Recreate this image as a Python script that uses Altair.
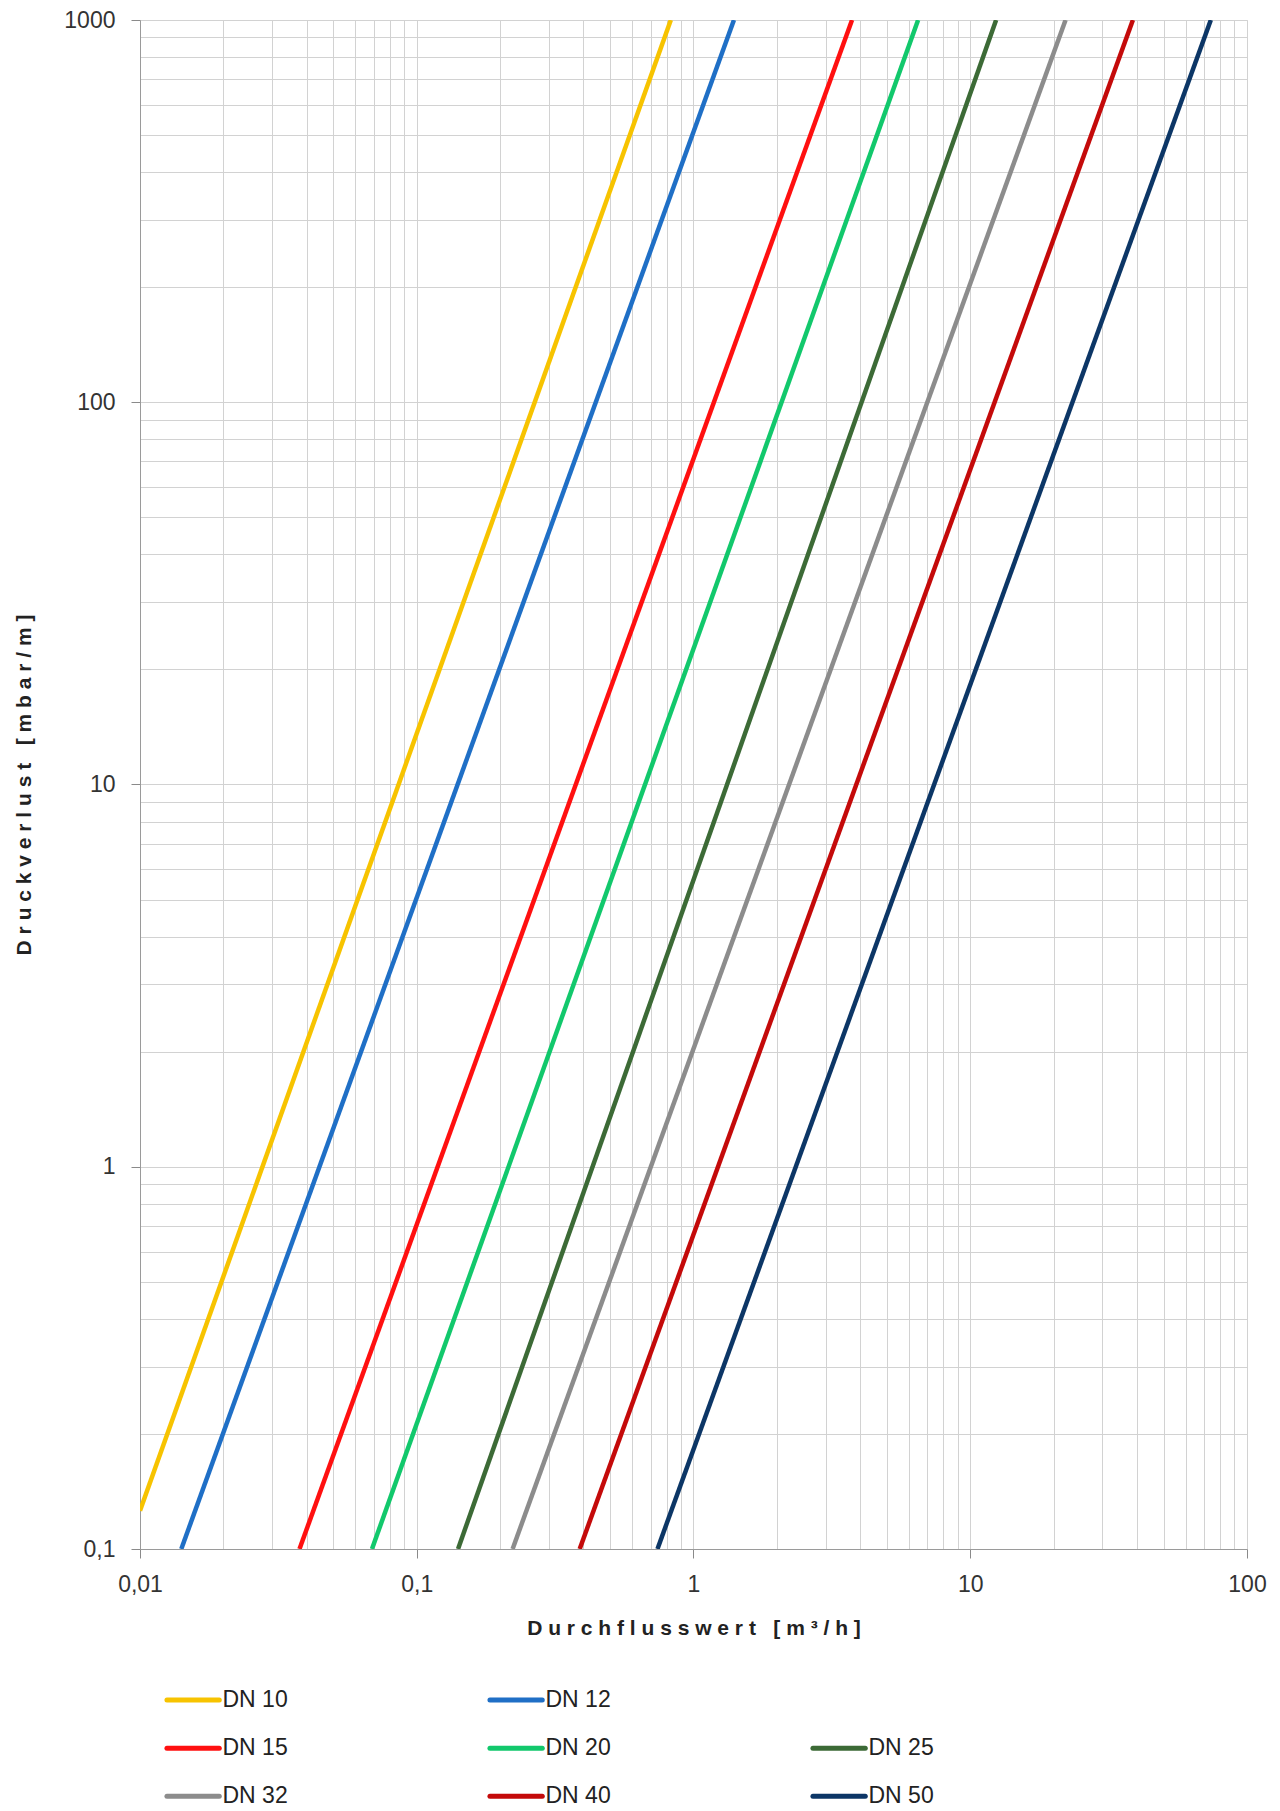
import altair as alt
import pandas as pd

# ---- data ----
series = ["DN 10", "DN 12", "DN 15", "DN 20", "DN 25", "DN 32", "DN 40", "DN 50"]
colors = ["#F7C300", "#1F6FC6", "#FF1010", "#12C86C", "#3C6A36", "#8C8C8C", "#C40A0A", "#0C3666"]
# start point (lower-left end of each line) and end point (upper-right end)
x_start = [0.01, 0.0141, 0.0377, 0.0689, 0.141, 0.222, 0.388, 0.741]
y_start = [0.126, 0.1, 0.1, 0.1, 0.1, 0.1, 0.1, 0.1]
x_end = [0.828, 1.40, 3.74, 6.48, 12.4, 22.1, 38.7, 74.0]
y_end = [1000, 1000, 1000, 1000, 1000, 1000, 1000, 1000]
# legend layout (column, row) as in the reference
legend_col = [0, 1, 0, 1, 2, 0, 1, 2]
legend_row = [0, 0, 1, 1, 1, 2, 2, 2]

x_decades = [0.01, 0.1, 1, 10]
y_decades = [0.1, 1, 10, 100]
x_grid = [round(k * d, 6) for d in x_decades for k in range(1, 10)] + [100]
y_grid = [round(k * d, 6) for d in y_decades for k in range(1, 10)] + [1000]

rows = []
for s, xs, ys, xe, ye in zip(series, x_start, y_start, x_end, y_end):
    rows.append({"series": s, "x": xs, "y": ys, "o": 0})
    rows.append({"series": s, "x": xe, "y": ye, "o": 1})
df = pd.DataFrame(rows)

leg = pd.DataFrame({"series": series, "col": legend_col, "row": legend_row})
leg["x1"] = leg["col"] + 0.006
leg["x2"] = leg["col"] + 0.168
leg["xt"] = leg["col"] + 0.178

NB = "\u00a0"
def spaced(words):
    return (NB * 3).join(NB.join(list(w)) for w in words)

x_title = spaced(["Durchflusswert", "[m³/h]"])
y_title = spaced(["Druckverlust", "[mbar/m]"])

major_test = "abs(log(datum.value)/LN10 - round(log(datum.value)/LN10)) < 1e-6"
label_expr = f"{major_test} ? replace(format(datum.value, '~g'), '.', ',') : ''"
tick_op = {"condition": {"test": major_test, "value": 1}, "value": 0}

FONT = "Liberation Sans"
color_scale = alt.Scale(domain=series, range=colors)

common_axis = dict(
    grid=True,
    gridColor="#d2d2d2",
    gridWidth=1,
    tickOpacity=tick_op,
    tickSize=9,
    tickColor="#8a8a8a",
    domainColor="#9a9a9a",
    labelExpr=label_expr,
    labelFont=FONT,
    labelFontSize=23,
    labelColor="#333333",
    labelOverlap=False,
    labelFlush=False,
    titleFont=FONT,
    titleFontSize=21,
    titleFontWeight="bold",
    titleColor="#222222",
)

main = alt.Chart(df).mark_line(strokeWidth=4.5, clip=True).encode(
    x=alt.X("x:Q",
            scale=alt.Scale(type="log", domain=[0.01, 100], nice=False),
            axis=alt.Axis(values=x_grid, title=x_title, labelPadding=15,
                          titlePadding=21, **common_axis)),
    y=alt.Y("y:Q",
            scale=alt.Scale(type="log", domain=[0.1, 1000], nice=False),
            axis=alt.Axis(values=y_grid, title=y_title, labelPadding=16,
                          titlePadding=29, **common_axis)),
    color=alt.Color("series:N", scale=color_scale, legend=None),
    detail="series:N",
    order="o:Q",
).properties(width=1107, height=1529)

lx = alt.Scale(domain=[-0.0774, 3.3498])
ly = alt.Scale(domain=[-0.5, 2.2], reverse=True)

leg_rule = alt.Chart(leg).mark_rule(strokeWidth=5, strokeCap="round").encode(
    x=alt.X("x1:Q", scale=lx, axis=None),
    x2="x2:Q",
    y=alt.Y("row:Q", scale=ly, axis=None),
    color=alt.Color("series:N", scale=color_scale, legend=None),
)
leg_text = alt.Chart(leg).mark_text(align="left", baseline="middle", font=FONT,
                                    fontSize=23, color="#222222").encode(
    x=alt.X("xt:Q", scale=lx, axis=None),
    y=alt.Y("row:Q", scale=ly, axis=None),
    text="series:N",
)
legend_chart = alt.layer(leg_rule, leg_text).properties(
    width=1107, height=130, view=alt.ViewBackground(stroke="transparent", strokeWidth=0)
)

chart = alt.vconcat(main, legend_chart, spacing=37).properties(
    padding={"left": 5, "top": 0, "right": 0, "bottom": 0}
).configure_view(stroke="transparent", strokeWidth=0).configure(background="white")

chart.save("out.html", embed_options={"renderer": "svg", "actions": False})
